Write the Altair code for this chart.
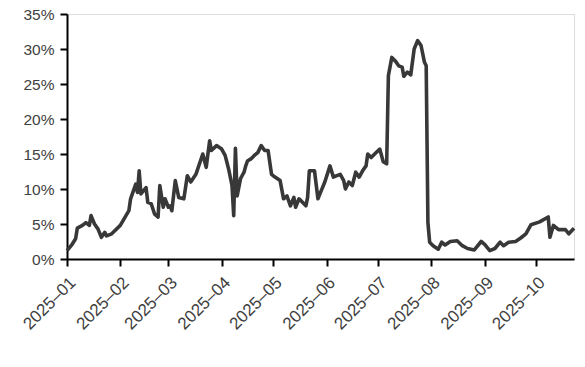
import altair as alt
import pandas as pd

dates = [
    "2025-01-01", "2025-01-04", "2025-01-06", "2025-01-07", "2025-01-10", "2025-01-12",
    "2025-01-14", "2025-01-15", "2025-01-17", "2025-01-19", "2025-01-21", "2025-01-23",
    "2025-01-24", "2025-01-27", "2025-02-01", "2025-02-06", "2025-02-07", "2025-02-10",
    "2025-02-11", "2025-02-12", "2025-02-13", "2025-02-16", "2025-02-17", "2025-02-19",
    "2025-02-21", "2025-02-23", "2025-02-24", "2025-02-26", "2025-02-27", "2025-03-01",
    "2025-03-02", "2025-03-03", "2025-03-05", "2025-03-07", "2025-03-10", "2025-03-12",
    "2025-03-14", "2025-03-17", "2025-03-21", "2025-03-23", "2025-03-25", "2025-03-26",
    "2025-03-29", "2025-04-01", "2025-04-03", "2025-04-05", "2025-04-07", "2025-04-08",
    "2025-04-09", "2025-04-10", "2025-04-12", "2025-04-14", "2025-04-15", "2025-04-16",
    "2025-04-18", "2025-04-20", "2025-04-22", "2025-04-24", "2025-04-26", "2025-04-28",
    "2025-04-30", "2025-05-02", "2025-05-05", "2025-05-07", "2025-05-09", "2025-05-11",
    "2025-05-13", "2025-05-14", "2025-05-16", "2025-05-18", "2025-05-20", "2025-05-21",
    "2025-05-22", "2025-05-25", "2025-05-27", "2025-05-29", "2025-05-31", "2025-06-03",
    "2025-06-05", "2025-06-07", "2025-06-09", "2025-06-11", "2025-06-12", "2025-06-14",
    "2025-06-16", "2025-06-18", "2025-06-20", "2025-06-22", "2025-06-24", "2025-06-25",
    "2025-06-27", "2025-06-29", "2025-07-02", "2025-07-04", "2025-07-06", "2025-07-07",
    "2025-07-09", "2025-07-11", "2025-07-13", "2025-07-15", "2025-07-16", "2025-07-18",
    "2025-07-20", "2025-07-22", "2025-07-24", "2025-07-26", "2025-07-28", "2025-07-29",
    "2025-07-30", "2025-07-31", "2025-08-02", "2025-08-05", "2025-08-07", "2025-08-09",
    "2025-08-12", "2025-08-16", "2025-08-19", "2025-08-22", "2025-08-26", "2025-08-30",
    "2025-09-01", "2025-09-04", "2025-09-07", "2025-09-10", "2025-09-12", "2025-09-15",
    "2025-09-19", "2025-09-22", "2025-09-25", "2025-09-28", "2025-10-03", "2025-10-08",
    "2025-10-09", "2025-10-11", "2025-10-14", "2025-10-18", "2025-10-20", "2025-10-23",
]

values = [
    1.2, 2.1, 2.9, 4.4, 4.8, 5.2,
    4.8, 6.2, 5.0, 4.3, 3.1, 3.8,
    3.3, 3.6, 4.8, 6.9, 8.6, 10.7,
    9.5, 12.6, 9.3, 10.2, 8.1, 7.9,
    6.4, 6.0, 10.5, 7.4, 8.6, 7.4,
    7.6, 6.9, 11.2, 8.8, 8.6, 11.9,
    11.0, 12.1, 15.0, 13.1, 16.9, 15.5,
    16.2, 15.7, 14.8, 12.9, 10.5, 6.2,
    15.8, 9.0, 11.5, 12.4, 13.3, 14.0,
    14.3, 14.8, 15.2, 16.2, 15.5, 15.5,
    12.1, 11.7, 11.2, 8.6, 9.0, 7.6,
    8.8, 7.4, 8.6, 8.1, 7.6, 8.8,
    12.6, 12.6, 8.6, 9.8, 11.0, 13.3,
    11.7, 11.9, 12.1, 11.2, 10.0, 11.0,
    10.5, 12.4, 11.7, 12.6, 13.3, 15.0,
    14.5, 15.0, 15.7, 13.9, 13.6, 26.2,
    28.8, 28.3, 27.6, 27.4, 26.1, 26.7,
    26.3, 30.0, 31.2, 30.5, 28.1, 27.6,
    5.2, 2.4, 1.9, 1.4, 2.4, 2.0,
    2.5, 2.6, 1.9, 1.5, 1.3, 2.5,
    2.1, 1.2, 1.5, 2.4, 1.9, 2.4,
    2.5, 3.0, 3.6, 4.9, 5.3, 6.0,
    3.1, 4.8, 4.2, 4.2, 3.6, 4.4,
]

y_ticks = [0, 5, 10, 15, 20, 25, 30, 35]
month_ticks = list(range(1, 11))

df = pd.DataFrame({"date": dates, "value": values})

font = "Liberation Sans"

chart = alt.Chart(df).mark_line(color="#383838", strokeWidth=3.6, strokeJoin="round").encode(
    x=alt.X(
        "date:T",
        scale=alt.Scale(
            type="utc",
            domain=[alt.DateTime(year=2025, month=1, date=1, utc=True),
                    alt.DateTime(year=2025, month=10, date=23, utc=True)],
            nice=False,
        ),
        axis=alt.Axis(
            title=None,
            values=[alt.DateTime(year=2025, month=m, date=1, utc=True) for m in month_ticks],
            labelExpr="utcFormat(datum.value, '%Y') + '–' + utcFormat(datum.value, '%m')",
            labelAngle=-45,
            labelAlign="right",
            labelBaseline="top",
            labelPadding=8,
            tickSize=7,
            tickWidth=2,
            tickColor="black",
            domainColor="black",
            domainWidth=2,
            grid=False,
            labelFont=font,
            labelFontSize=17,
            labelColor="#404040",
            labelOverlap=False,
        ),
    ),
    y=alt.Y(
        "value:Q",
        scale=alt.Scale(domain=[0, 35], nice=False),
        axis=alt.Axis(
            title=None,
            values=y_ticks,
            labelExpr="datum.value + '%'",
            tickSize=7,
            tickWidth=2,
            tickColor="black",
            domainColor="black",
            domainWidth=2,
            grid=False,
            labelPadding=6,
            labelFont=font,
            labelFontSize=15.5,
            labelColor="#404040",
        ),
    ),
).properties(
    width=507,
    height=245,
    autosize=alt.AutoSizeParams(type="none"),
    padding={"left": 67, "top": 14, "right": 11, "bottom": 108},
).configure_view(stroke=None).configure(background="white")

chart.save("out.html", embed_options={"renderer": "svg", "actions": False})
